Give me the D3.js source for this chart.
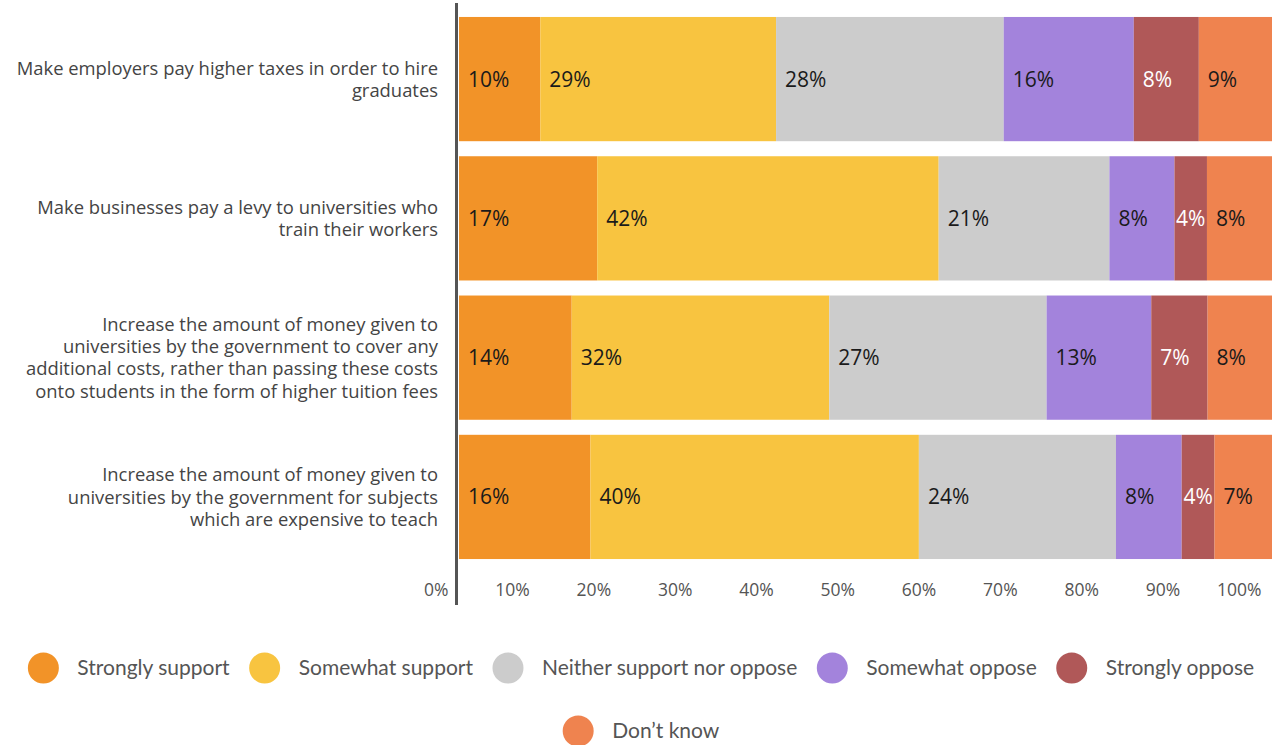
<!DOCTYPE html>
<html>
<head>
<meta charset="utf-8">
<script src="https://cdn.jsdelivr.net/npm/d3@7"></script>
<style>
  body { margin: 0; background: #fff; }
  svg { display: block; }
</style>
</head>
<body>
<div class="canvas"></div>
<script>
// rows (top to bottom), each label split into its printed lines
const categories = [
    ["Make employers pay higher taxes in order to hire", "graduates"],
    ["Make businesses pay a levy to universities who", "train their workers"],
    ["Increase the amount of money given to", "universities by the government to cover any",
     "additional costs, rather than passing these costs", "onto students in the form of higher tuition fees"],
    ["Increase the amount of money given to", "universities by the government for subjects",
     "which are expensive to teach"]
];
const seriesNames = ["Strongly support", "Somewhat support", "Neither support nor oppose",
    "Somewhat oppose", "Strongly oppose", "Don\u2019t know"];
const stronglySupport = [10, 17, 14, 16];
const somewhatSupport = [29, 42, 32, 40];
const neither = [28, 21, 27, 24];
const somewhatOppose = [16, 8, 13, 8];
const stronglyOppose = [8, 4, 7, 4];
const dontKnow = [9, 8, 8, 7];
const tickValues = [0, 0.1, 0.2, 0.3, 0.4, 0.5, 0.6, 0.7, 0.8, 0.9, 1];
const colours = ["#F29328", "#F8C440", "#CCCCCC", "#A383DC", "#B05858", "#EF834F"];

const width = 1282, height = 745;
const series = [stronglySupport, somewhatSupport, neither, somewhatOppose, stronglyOppose, dontKnow];

const rows = categories.map((c, i) => {
    const row = { id: i };
    seriesNames.forEach((s, j) => row[s] = series[j][i]);
    return row;
});

const svg = d3.select(".canvas")
    .append("svg")
    .attr("width", width)
    .attr("height", height);

const x = d3.scaleLinear()
    .domain([0, 1])
    .range([459, 1272]);
const y = d3.scaleBand()
    .domain(rows.map(d => d.id))
    .range([10, 566])
    .paddingInner(0.108)
    .paddingOuter(0.05);
const colour = d3.scaleOrdinal()
    .domain(seriesNames)
    .range(colours);

const stacked = d3.stack()
    .keys(seriesNames)
    .offset(d3.stackOffsetExpand)(rows);

const layers = svg.append("g")
    .selectAll("g")
    .data(stacked)
    .join("g")
    .attr("fill", d => colour(d.key));

layers.selectAll("rect")
    .data(d => d.map(p => ({ key: d.key, p })))
    .join("rect")
    .attr("x", d => x(d.p[0]))
    .attr("width", d => x(d.p[1]) - x(d.p[0]))
    .attr("y", d => y(d.p.data.id))
    .attr("height", y.bandwidth());

const pad = 9;
layers.selectAll("text")
    .data(d => d.map(p => ({ key: d.key, p })))
    .join("text")
    .attr("y", d => y(d.p.data.id) + y.bandwidth() / 2)
    .attr("dy", "0.36em")
    .attr("font-family", "'Open Sans', sans-serif")
    .attr("font-size", 21)
    .attr("fill", d => d.key === "Strongly oppose" ? "#fff" : "#1a1a1a")
    .text(d => d.p.data[d.key] + "%")
    .each(function (d) {
        // narrow segments: centre the label instead of left padding
        const segW = x(d.p[1]) - x(d.p[0]);
        const w = this.getComputedTextLength();
        const x0 = segW < w + 2 * pad ? x(d.p[0]) + (segW - w) / 2 : x(d.p[0]) + pad;
        d3.select(this).attr("x", x0);
    });

// category labels
const catGroup = svg.append("g")
    .attr("font-family", "'Open Sans', sans-serif")
    .attr("font-size", 18.4)
    .attr("fill", "#444")
    .attr("text-anchor", "end");
const lineH = 22.3;
categories.forEach((lines, i) => {
    const cy = y(i) + y.bandwidth() / 2;
    const t = catGroup.append("text")
        .attr("x", 438)
        .attr("y", cy - (lines.length - 1) * lineH / 2)
        .attr("dy", "0.36em");
    lines.forEach((l, k) => {
        t.append("tspan")
            .attr("x", 438)
            .attr("dy", k === 0 ? "0.36em" : lineH)
            .text(l);
    });
});

// x axis labels
const xAxis = d3.axisBottom(x)
    .tickValues(tickValues)
    .tickSize(0)
    .tickFormat(d3.format(".0%"));
const xAxisGroup = svg.append("g")
    .attr("transform", "translate(0, 581)")
    .call(xAxis);
xAxisGroup.select(".domain").remove();
xAxisGroup.selectAll("text")
    .attr("text-anchor", "end")
    .attr("dx", -11)
    .attr("font-family", "'Open Sans', sans-serif")
    .attr("font-size", 17.5)
    .attr("fill", "#555");

// vertical axis line
svg.append("line")
    .attr("x1", 456.5).attr("x2", 456.5)
    .attr("y1", 3).attr("y2", 605)
    .attr("stroke", "#555")
    .attr("stroke-width", 3);

// legend, wrapped and centred
const legend = svg.append("g")
    .attr("font-family", "Lato, sans-serif")
    .attr("font-size", 21)
    .attr("fill", "#555");
const r = 15.5, textOff = 34, step = 35;
const items = seriesNames.map(name => {
    const g = legend.append("g");
    g.append("circle").attr("r", r).attr("cx", 0).attr("fill", colour(name));
    const t = g.append("text").attr("x", textOff).attr("dy", "0.35em").text(name);
    return { g, w: textOff + t.node().getComputedTextLength() };
});
const maxW = 1250;
const lines = [[]];
items.forEach(it => {
    const line = lines[lines.length - 1];
    const w = r + d3.sum(line, d => d.w) + step * line.length + it.w;
    if (w > maxW && line.length) lines.push([it]);
    else line.push(it);
});
lines.forEach((line, li) => {
    const total = r + d3.sum(line, d => d.w) + step * (line.length - 1);
    let px = 641 - total / 2 + r;
    line.forEach(it => {
        it.g.attr("transform", `translate(${px}, ${668 + li * 63})`);
        px += it.w + step;
    });
});
</script>
</body>
</html>
